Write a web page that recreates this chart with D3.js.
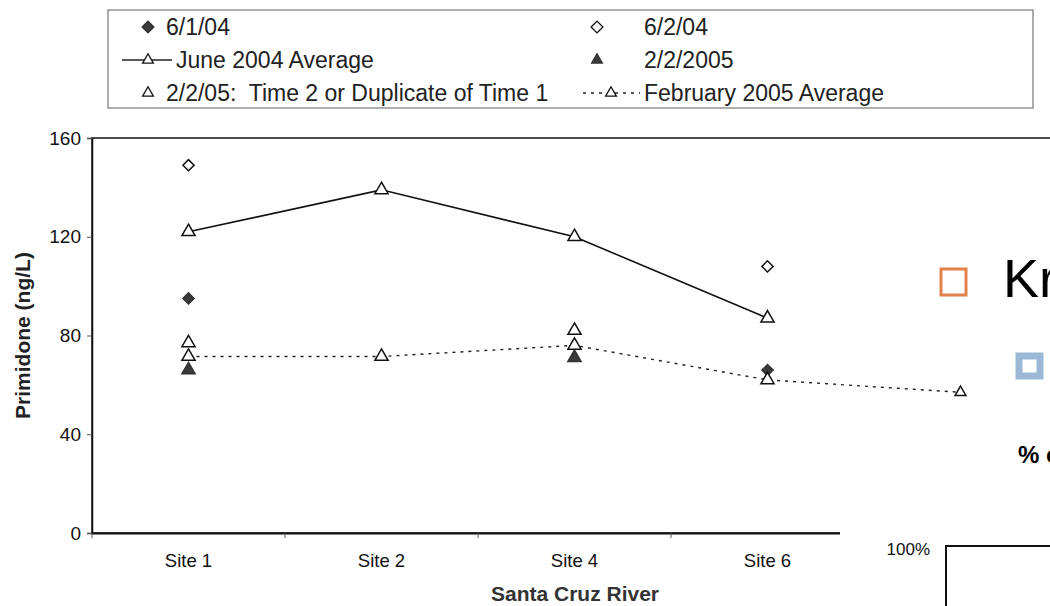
<!DOCTYPE html>
<html>
<head>
<meta charset="utf-8">
<script src="https://cdn.jsdelivr.net/npm/d3@7"></script>
<style>
  body { margin: 0; background: #fff; }
  svg { display: block; font-family: "Liberation Sans", Arial, sans-serif; }
</style>
</head>
<body>
<div id="chart"></div>
<script>
// data
const sites = ["Site 1", "Site 2", "Site 4", "Site 6", "Site 8"];
const siteLabels = ["Site 1", "Site 2", "Site 4", "Site 6"];
const june1 = [95, null, null, 66, null];        // 6/1/04
const june2 = [149, null, null, 108, null];      // 6/2/04
const juneAvg = [122, 139, 120, 87, null];       // June 2004 Average
const feb1 = [66, null, 71, null, null];         // 2/2/2005
const feb2 = [77, null, 82, null, null];         // 2/2/05: Time 2 or Duplicate of Time 1
const febAvg = [71.5, 71.5, 76, 62, 57];         // February 2005 Average
const yTicks = [0, 40, 80, 120, 160];

const width = 1050, height = 606;
const margin = {top: 138, left: 92, bottom: 73};
const plotRight = 1057;

const svg = d3.select("#chart").append("svg")
  .attr("width", width)
  .attr("height", height);

svg.append("rect").attr("width", width).attr("height", height).attr("fill", "#fff");

const x = d3.scaleBand()
  .domain(sites)
  .range([margin.left, plotRight])
  .paddingInner(0);

const y = d3.scaleLinear()
  .domain([0, 160])
  .range([height - margin.bottom, margin.top]);

const cx = i => x(sites[i]) + x.bandwidth() / 2;

// plot frame
svg.append("rect")
  .attr("x", margin.left)
  .attr("y", y(160))
  .attr("width", plotRight - margin.left)
  .attr("height", y(0) - y(160))
  .attr("fill", "none")
  .attr("stroke", "#111")
  .attr("stroke-width", 1.5);

// y axis
const yAxis = svg.append("g")
  .attr("transform", `translate(${margin.left},0)`)
  .call(d3.axisLeft(y).tickValues(yTicks).tickSize(5).tickPadding(6));
yAxis.select(".domain").attr("stroke", "#111").attr("stroke-width", 1.5);
yAxis.selectAll("text").attr("font-size", 19).attr("fill", "#111");
yAxis.selectAll("line").attr("stroke", "#555");

// x axis, ticks between categories
const xAxis = svg.append("g")
  .attr("transform", `translate(0,${y(0)})`)
  .call(d3.axisBottom(x).tickValues(siteLabels).tickSize(0).tickPadding(21));
xAxis.select(".domain").attr("stroke", "#111").attr("stroke-width", 1.8);
xAxis.selectAll("text").attr("font-size", 18.5).attr("fill", "#111");
xAxis.selectAll(".sep")
  .data(sites)
  .enter().append("line")
  .attr("class", "sep")
  .attr("x1", d => x(d)).attr("x2", d => x(d))
  .attr("y1", 0).attr("y2", 5)
  .attr("stroke", "#555");

// axis titles
svg.append("text")
  .attr("transform", `translate(30,${(y(0) + y(160)) / 2}) rotate(-90)`)
  .attr("text-anchor", "middle")
  .attr("font-size", 21)
  .attr("font-weight", "bold")
  .attr("fill", "#222")
  .text("Primidone (ng/L)");

svg.append("text")
  .attr("x", 575)
  .attr("y", 601)
  .attr("text-anchor", "middle")
  .attr("font-size", 21)
  .attr("font-weight", "bold")
  .attr("fill", "#333")
  .text("Santa Cruz River");

// lines
const line = d3.line()
  .defined(d => d.v != null)
  .x(d => cx(d.i))
  .y(d => y(d.v));

svg.append("path")
  .datum(juneAvg.map((v, i) => ({v, i})))
  .attr("d", line)
  .attr("fill", "none")
  .attr("stroke", "#111")
  .attr("stroke-width", 1.6);

svg.append("path")
  .datum(febAvg.map((v, i) => ({v, i})))
  .attr("d", line)
  .attr("fill", "none")
  .attr("stroke", "#222")
  .attr("stroke-width", 1.4)
  .attr("stroke-dasharray", "3,5");

const tri = d3.symbol().type(d3.symbolTriangle).size(75);
const triSmall = d3.symbol().type(d3.symbolTriangle).size(50);
const dia = d3.symbol().type(d3.symbolSquare).size(62);
const diaLeg = d3.symbol().type(d3.symbolSquare).size(70);

function drawMarkers(values, shape, fill, rotate, sizeFn) {
  svg.append("g").selectAll("path")
    .data(values.map((v, i) => ({v, i})).filter(d => d.v != null))
    .enter().append("path")
    .attr("d", d => (sizeFn ? sizeFn(d) : shape)())
    .attr("transform", d => `translate(${cx(d.i)},${y(d.v)}) rotate(${rotate})`)
    .attr("fill", fill)
    .attr("stroke", fill === "#fff" ? "#111" : "#333")
    .attr("stroke-width", 1.5);
}

drawMarkers(june2, dia, "#fff", 45);
drawMarkers(june1, dia, "#3a3a3a", 45);
drawMarkers(juneAvg, tri, "#fff", 0);
drawMarkers(feb1, tri, "#3a3a3a", 0);
drawMarkers(feb2, tri, "#fff", 0);
drawMarkers(febAvg, tri, "#fff", 0, d => d.i === 4 ? triSmall : tri);

// legend
const lg = svg.append("g");
lg.append("rect")
  .attr("x", 108).attr("y", 10)
  .attr("width", 925).attr("height", 98)
  .attr("fill", "#fff")
  .attr("stroke", "#777")
  .attr("stroke-width", 1.2);

const legendItems = [
  {label: "6/1/04", mx: 148, tx: 166, row: 0, shape: diaLeg, fill: "#3a3a3a", rot: 45},
  {label: "6/2/04", mx: 597, tx: 644, row: 0, shape: diaLeg, fill: "#fff", rot: 45},
  {label: "June 2004 Average", mx: 148, tx: 176, row: 1, shape: triSmall, fill: "#fff", rot: 0, line: [122, 172], dash: null},
  {label: "2/2/2005", mx: 597, tx: 644, row: 1, shape: triSmall, fill: "#3a3a3a", rot: 0},
  {label: "2/2/05:  Time 2 or Duplicate of Time 1", mx: 148, tx: 166, row: 2, shape: triSmall, fill: "#fff", rot: 0},
  {label: "February 2005 Average", mx: 611, tx: 644, row: 2, shape: triSmall, fill: "#fff", rot: 0, line: [583, 640], dash: "3,5"}
];
const rowY = [27, 60, 93];

legendItems.forEach(d => {
  const yy = rowY[d.row];
  if (d.line) {
    lg.append("line")
      .attr("x1", d.line[0]).attr("x2", d.line[1])
      .attr("y1", yy).attr("y2", yy)
      .attr("stroke", "#222")
      .attr("stroke-width", 1.4)
      .attr("stroke-dasharray", d.dash);
  }
  lg.append("path")
    .attr("d", d.shape())
    .attr("transform", `translate(${d.mx},${yy}) rotate(${d.rot})`)
    .attr("fill", d.fill)
    .attr("stroke", d.fill === "#fff" ? "#111" : "#333")
    .attr("stroke-width", 1.3);
  lg.append("text")
    .attr("x", d.tx).attr("y", yy + 8)
    .attr("font-size", 23)
    .attr("fill", "#222")
    .style("white-space", "pre")
    .text(d.label);
});

// pieces of the overlapping slide on the right
svg.append("rect")
  .attr("x", 840).attr("y", 515)
  .attr("width", 210).attr("height", 91)
  .attr("fill", "#fff");

svg.append("rect")
  .attr("x", 941).attr("y", 269)
  .attr("width", 25).attr("height", 26)
  .attr("fill", "none")
  .attr("stroke", "#e0824a")
  .attr("stroke-width", 3);

svg.append("text")
  .attr("x", 1003).attr("y", 297)
  .attr("font-size", 54)
  .attr("fill", "#000")
  .text("Kr");

svg.append("rect")
  .attr("x", 1019).attr("y", 356)
  .attr("width", 21).attr("height", 20)
  .attr("fill", "#fff")
  .attr("stroke", "#9bb9d6")
  .attr("stroke-width", 7);

svg.append("text")
  .attr("x", 1018).attr("y", 463)
  .attr("font-size", 24)
  .attr("font-weight", "bold")
  .attr("fill", "#000")
  .text("% of");

svg.append("text")
  .attr("x", 930).attr("y", 555)
  .attr("text-anchor", "end")
  .attr("font-size", 17)
  .attr("fill", "#111")
  .text("100%");

svg.append("path")
  .attr("d", "M946,606V546H1050")
  .attr("fill", "none")
  .attr("stroke", "#111")
  .attr("stroke-width", 2);
</script>
</body>
</html>
